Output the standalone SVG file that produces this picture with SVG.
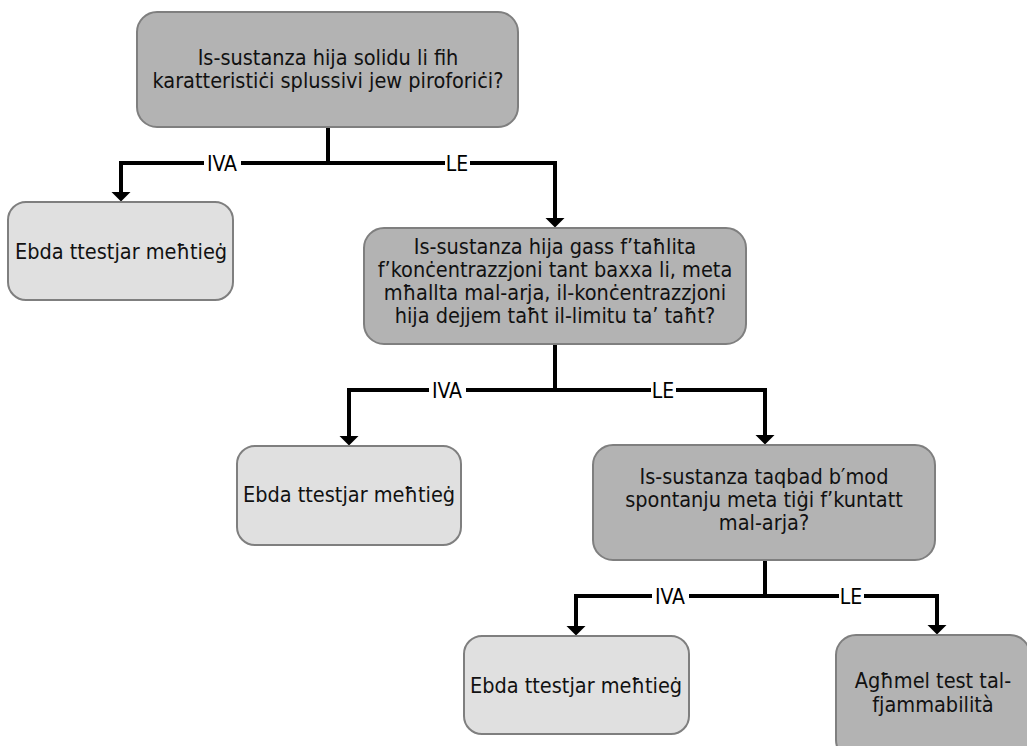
<svg xmlns="http://www.w3.org/2000/svg" width="1027" height="746" viewBox="0 0 1027 746">
  <style>
    .q { fill: #b3b3b3; stroke: #7f7f7f; stroke-width: 2; }
    .e { fill: #e0e0e0; stroke: #7f7f7f; stroke-width: 2; }
    .t { font-family: "DejaVu Sans Condensed", "DejaVu Sans", sans-serif; font-stretch: condensed; font-size: 21.5px; fill: #111111; text-anchor: middle; }
    .c { fill: none; stroke: #000000; stroke-width: 4; stroke-linejoin: miter; stroke-linecap: butt; }
    .lb { fill: #ffffff; }
    .lt { font-family: "DejaVu Sans Condensed", "DejaVu Sans", sans-serif; font-stretch: condensed; font-size: 21px; fill: #000000; text-anchor: middle; }
  </style>
  <defs>
    <marker id="arr" viewBox="0 0 10 20" refX="0.5" refY="10" markerWidth="10" markerHeight="20" markerUnits="userSpaceOnUse" orient="auto">
      <path d="M0,0 L10,10 L0,20 Z" fill="#000000"/>
    </marker>
  </defs>
  <rect width="1027" height="746" fill="#ffffff"/>

  <g id="connectors">
    <!-- from node 1 -->
    <path class="c" d="M328,127 V163"/>
    <path class="c" d="M328,163 H121 V192" marker-end="url(#arr)"/>
    <path class="c" d="M328,163 H555 V218" marker-end="url(#arr)"/>
    <rect class="lb" x="204" y="152" width="37" height="22"/>
    <text class="lt" x="222" y="170.5">IVA</text>
    <rect class="lb" x="445" y="152" width="25" height="22"/>
    <text class="lt" x="457" y="170.5">LE</text>

    <!-- from node 2 -->
    <path class="c" d="M555,344 V390"/>
    <path class="c" d="M555,390 H349 V436" marker-end="url(#arr)"/>
    <path class="c" d="M555,390 H765 V435" marker-end="url(#arr)"/>
    <rect class="lb" x="429" y="379" width="37" height="22"/>
    <text class="lt" x="447" y="397.5">IVA</text>
    <rect class="lb" x="651" y="379" width="25" height="22"/>
    <text class="lt" x="663" y="397.5">LE</text>

    <!-- from node 3 -->
    <path class="c" d="M765,560 V596"/>
    <path class="c" d="M765,596 H576 V626" marker-end="url(#arr)"/>
    <path class="c" d="M765,596 H937 V625" marker-end="url(#arr)"/>
    <rect class="lb" x="652" y="585" width="37" height="22"/>
    <text class="lt" x="670" y="603.5">IVA</text>
    <rect class="lb" x="839" y="585" width="25" height="22"/>
    <text class="lt" x="851" y="603.5">LE</text>
  </g>

  <g id="q1">
    <rect class="q" x="137" y="12" width="381" height="115" rx="20" ry="20"/>
    <text class="t" x="328" y="65">Is-sustanza hija solidu li fih</text>
    <text class="t" x="328" y="88">karatteristiċi splussivi jew piroforiċi?</text>
  </g>

  <g id="no1">
    <rect class="e" x="8" y="202" width="225" height="98" rx="18" ry="18"/>
    <text class="t" x="121" y="259">Ebda ttestjar meħtieġ</text>
  </g>

  <g id="q2">
    <rect class="q" x="364" y="228" width="382" height="116" rx="20" ry="20"/>
    <text class="t" x="555" y="254">Is-sustanza hija gass f’taħlita</text>
    <text class="t" x="555" y="277">f’konċentrazzjoni tant baxxa li, meta</text>
    <text class="t" x="555" y="300">mħallta mal-arja, il-konċentrazzjoni</text>
    <text class="t" x="555" y="323">hija dejjem taħt il-limitu ta’ taħt?</text>
  </g>

  <g id="no2">
    <rect class="e" x="237" y="446" width="224" height="99" rx="18" ry="18"/>
    <text class="t" x="349" y="502">Ebda ttestjar meħtieġ</text>
  </g>

  <g id="q3">
    <rect class="q" x="593" y="445" width="342" height="115" rx="20" ry="20"/>
    <text class="t" x="764" y="484">Is-sustanza taqbad b′mod</text>
    <text class="t" x="764" y="507">spontanju meta tiġi f’kuntatt</text>
    <text class="t" x="764" y="530">mal-arja?</text>
  </g>

  <g id="no3">
    <rect class="e" x="464" y="636" width="225" height="98" rx="18" ry="18"/>
    <text class="t" x="576" y="693">Ebda ttestjar meħtieġ</text>
  </g>

  <g id="test">
    <rect class="q" x="836" y="635" width="194" height="125" rx="20" ry="20"/>
    <text class="t" x="933" y="688">Agħmel test tal-</text>
    <text class="t" x="933" y="712">fjammabilità</text>
  </g>
</svg>
